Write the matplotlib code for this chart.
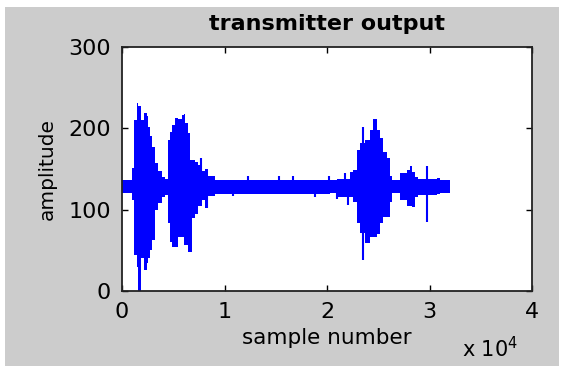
import matplotlib
matplotlib.use("Agg")
import matplotlib.pyplot as plt
from matplotlib.patches import Rectangle

# envelope of the waveform: sample position, upper and lower amplitude (step-wise)
ENV_POS = [0, 940, 1000, 1200, 1430, 1600, 1870, 2100, 2400, 2570, 2700, 2950,
           3250, 3500, 3870, 4200, 4520, 4700, 4850, 5170, 5500, 5820, 6050, 6150,
           6470, 6640, 6800, 7120, 7450, 7850, 8100, 8420, 9070, 20290, 20950,
           22240, 22570, 22900, 23220, 23700, 24200, 24520, 24850, 25170, 25500,
           25820, 26150, 26300, 27120, 27770, 28100, 28260, 28590, 28900, 30700,
           31000, 32000]
ENV_HI = [136, 136, 151, 210, 231, 228, 210, 219, 215, 202, 190, 177,
          157, 147, 140, 138, 186, 195, 204, 213, 211, 216, 218, 206,
          194, 161, 161, 158, 155, 148, 150, 142, 137, 136, 138,
          146, 149, 173, 182, 186, 198, 212, 198, 188, 171,
          163, 141, 136, 145, 149, 154, 146, 140, 138, 139,
          136, 136]
ENV_LO = [120, 120, 112, 44, 30, 0, 41, 26, 34, 40, 50, 63,
          100, 108, 116, 118, 84, 60, 54, 54, 66, 66, 57, 57,
          48, 48, 90, 95, 104, 112, 102, 117, 119, 120, 116,
          116, 110, 83, 71, 59, 66, 66, 70, 83, 91,
          91, 110, 120, 112, 104, 104, 103, 116, 118, 119,
          120, 120]

# isolated spikes
SPIKE_POS = [7710, 8260, 10860, 12330, 15330, 16660, 18830, 20150, 21010, 21760, 22080, 23545, 29724]
SPIKE_HI = [164, 140, 136, 141, 141, 141, 136, 141, 136, 145, 136, 202, 154]
SPIKE_LO = [112, 102, 117, 120, 120, 120, 116, 120, 113, 120, 106, 38, 85]

XTICKS = [0, 10000, 20000, 30000, 40000]
XTICK_LABELS = ["0", "1", "2", "3", "4"]
YTICKS = [0, 100, 200, 300]

BLUE = "#0000FF"
GRAY = "#CCCCCC"

plt.rcParams["font.family"] = "DejaVu Sans"

fig = plt.figure(figsize=(5.64, 3.74), dpi=100, facecolor="white")
fig.patches.append(Rectangle((5 / 564, 8 / 374), 554 / 564, 359 / 374,
                             transform=fig.transFigure, facecolor=GRAY,
                             edgecolor="none", zorder=-10))
ax = fig.add_axes([122 / 564, 83 / 374, 410 / 564, 244 / 374])
ax.set_facecolor("white")

ax.fill_between(ENV_POS, ENV_LO, ENV_HI, step="post", color=BLUE, linewidth=0)
ax.vlines(SPIKE_POS, SPIKE_LO, SPIKE_HI, color=BLUE, linewidth=1.5)

ax.set_xlim(0, 40000)
ax.set_ylim(0, 300)
ax.set_xticks(XTICKS)
ax.set_xticklabels(XTICK_LABELS)
ax.set_yticks(YTICKS)
ax.tick_params(direction="in", length=4, width=1, top=True, right=True,
               labelsize=16, pad=8, colors="black")
for s in ax.spines.values():
    s.set_linewidth(1.3)
    s.set_color("#222222")

ax.set_title("transmitter output", fontsize=16, fontweight="bold", pad=12)
ax.set_xlabel("sample number", fontsize=15.5, labelpad=4)
ax.set_ylabel("amplitude", fontsize=14.5, labelpad=8)
fig.text(462 / 564, 1 - 357 / 374, r"x 10$^{4}$", fontsize=15, ha="left", va="baseline")

plt.savefig("out.png", dpi=100, facecolor="white")
